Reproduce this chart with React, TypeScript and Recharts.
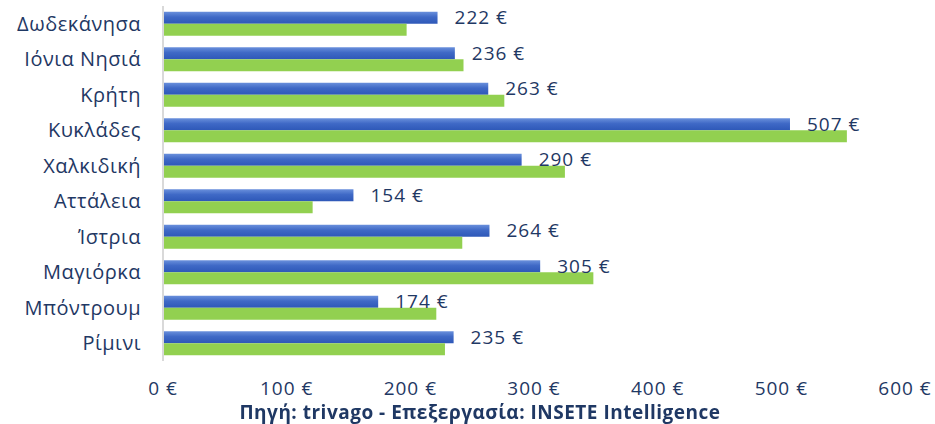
import { Bar, BarChart, LabelList, XAxis, YAxis } from "recharts";

const destinations = [
  "Δωδεκάνησα",
  "Ιόνια Νησιά",
  "Κρήτη",
  "Κυκλάδες",
  "Χαλκιδική",
  "Αττάλεια",
  "Ίστρια",
  "Μαγιόρκα",
  "Μπόντρουμ",
  "Ρίμινι",
];
const priceBlue = [222, 236, 263, 507, 290, 154, 264, 305, 174, 235];
const priceGreen = [197, 243, 276, 553, 325, 121, 242, 348, 221, 228];
const xTicks = [0, 100, 200, 300, 400, 500, 600];

const data = destinations.map((name, i) => ({
  name,
  blue: priceBlue[i],
  green: priceGreen[i],
}));

const ink = "#1F3864";
const font = "'Open Sans', sans-serif";

export default function App() {
  return (
    <div style={{ position: "fixed", left: 0, top: 0, width: 935, height: 424, background: "#fff" }}>
      <BarChart
        width={935}
        height={424}
        data={data}
        layout="vertical"
        margin={{ top: 6, right: 30, left: 0, bottom: 33 }}
        barCategoryGap="16%"
        barGap={0}
      >
        <defs>
          <linearGradient id="blueFill" x1="0" y1="0" x2="0" y2="1">
            <stop offset="0%" stopColor="#6A90DC" />
            <stop offset="45%" stopColor="#3F69C6" />
            <stop offset="100%" stopColor="#2E58B8" />
          </linearGradient>
        </defs>
        <XAxis
          type="number"
          domain={[0, 600]}
          ticks={xTicks}
          axisLine={false}
          tickLine={false}
          height={30}
          tickMargin={15}
          tickFormatter={(v) => `${v} €`}
          tick={{ fill: ink, fontSize: 19, fontFamily: font, letterSpacing: 1 }}
        />
        <YAxis
          type="category"
          dataKey="name"
          width={163}
          axisLine={{ stroke: "#D9D9D9", strokeWidth: 2 }}
          tickLine={false}
          tickMargin={16}
          interval={0}
          tick={{ fill: ink, fontSize: 20, fontFamily: font, letterSpacing: 0.5 }}
        />
        <Bar dataKey="blue" fill="url(#blueFill)" isAnimationActive={false}>
          <LabelList
            dataKey="blue"
            position="right"
            offset={17}
            formatter={(v: number) => `${v} €`}
            style={{ fill: ink, fontSize: 19, fontFamily: font, letterSpacing: 1 }}
          />
        </Bar>
        <Bar dataKey="green" fill="#92D050" isAnimationActive={false} />
      </BarChart>
      <div
        style={{
          position: "absolute",
          left: 0,
          width: 960,
          top: 399,
          textAlign: "center",
          fontFamily: font,
          fontWeight: 700,
          fontSize: 19,
          letterSpacing: 0.5,
          color: ink,
        }}
      >
        Πηγή: trivago - Επεξεργασία: INSETE Intelligence
      </div>
    </div>
  );
}
